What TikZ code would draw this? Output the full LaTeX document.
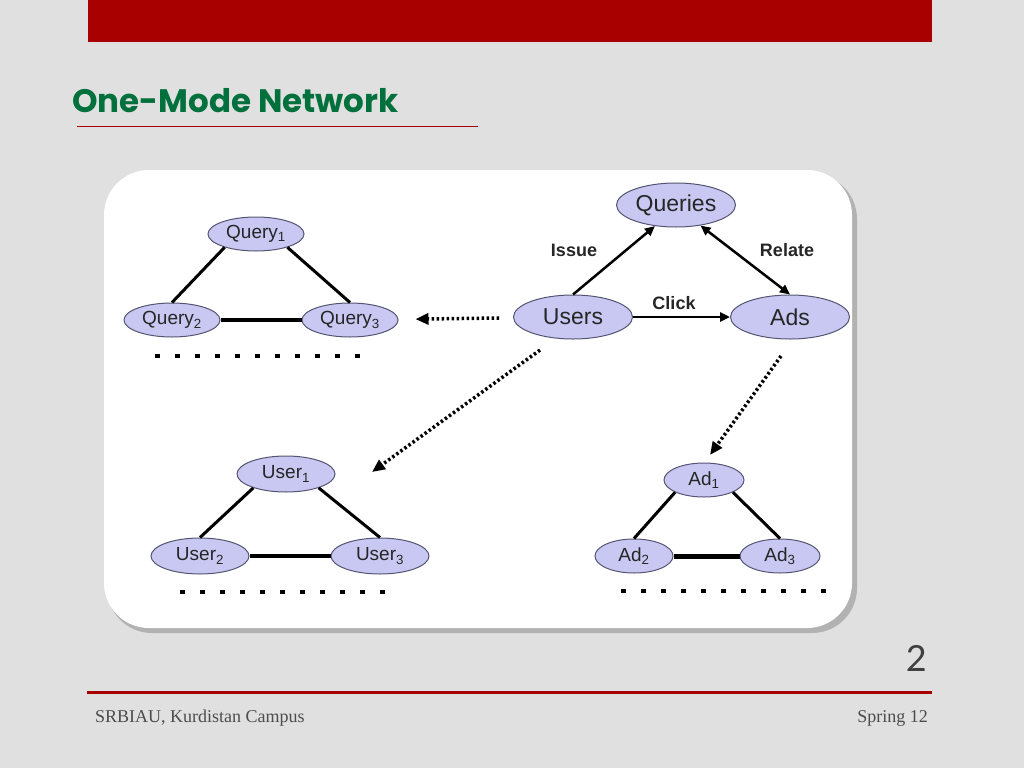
\documentclass[tikz,border=0pt]{standalone}
\usepackage{fontspec}
\setmainfont{Liberation Sans}
\newfontfamily\titlefont{Poppins}
\newfontfamily\footfont{Liberation Serif}
\newfontfamily\numfont{Lato}
\usetikzlibrary{shapes.geometric,arrows.meta}
\definecolor{barred}{RGB}{168,0,0}
\definecolor{titlegreen}{RGB}{0,112,60}
\definecolor{nodefill}{RGB}{200,200,242}
\definecolor{nodeline}{RGB}{85,85,115}
\definecolor{slide}{RGB}{224,224,224}
\tikzset{
  ent/.style={ellipse, draw=nodeline, fill=nodefill, line width=1pt, inner sep=0pt,
    minimum width=96pt, minimum height=34pt, text=black!85, font=\fontsize{19}{19}\selectfont},
  bigent/.style={ent, minimum width=119pt, minimum height=44pt, font=\fontsize{23}{23}\selectfont},
  tie/.style={line width=3pt},
  rel/.style={line width=2.5pt, -{Triangle[length=10pt,width=9pt]}},
  proj/.style={line width=3.5pt, dash pattern=on 2.5pt off 2.5pt,
    -{Triangle[length=13pt,width=11pt]}},
  lbl/.style={font=\bfseries\fontsize{18}{18}\selectfont, text=black!85},
  etc/.style={line width=4.5pt, dash pattern=on 4.5pt off 15.5pt}
}
\begin{document}
\begin{tikzpicture}[x=1pt,y=-1pt]
  \useasboundingbox (0,0) rectangle (1024,768);
  \fill[slide] (0,0) rectangle (1024,768);
  \fill[barred] (88,0) rectangle (932,42);
  \node[anchor=base west, inner sep=0pt, text=titlegreen, font=\titlefont\bfseries\fontsize{32.5}{32.5}\selectfont]
    (title) at (72,112) {One-Mode Network};
  \draw[barred, line width=1pt] (77,126) -- (478,126);
  \fill[gray!60, rounded corners=45pt] (107,174) rectangle (857,633);
  \fill[white, rounded corners=45pt] (104,170) rectangle (852,628);
  \draw
    (256,234) node[ent] (q1) {Query\textsubscript{1}}
    (172,320) node[ent] (q2) {Query\textsubscript{2}}
    (350,320) node[ent] (q3) {Query\textsubscript{3}}
    (676,205) node[bigent] (qs) {Queries}
    (573,317) node[bigent] (us) {Users}
    (790,317) node[bigent] (ad) {Ads}
    (286,474) node[ent, minimum width=98pt, minimum height=36pt] (u1) {User\textsubscript{1}}
    (200,556) node[ent, minimum width=98pt, minimum height=36pt] (u2) {User\textsubscript{2}}
    (380,556) node[ent, minimum width=98pt, minimum height=36pt] (u3) {User\textsubscript{3}}
    (704,480) node[ent, minimum width=80pt] (a1) {Ad\textsubscript{1}}
    (634,556) node[ent, minimum width=78pt] (a2) {Ad\textsubscript{2}}
    (780,556) node[ent, minimum width=80pt] (a3) {Ad\textsubscript{3}};
  \coordinate (p1) at (540,350);
  \coordinate (p2) at (372,472);
  \coordinate (p3) at (781,356);
  \coordinate (p4) at (710,455);
  \begin{scope}[tie]
    \draw (q1.203) to (q2.north);
    \draw (q1.-23) to (q3.north);
    \draw[line width=4pt] (q2) to (q3);
    \draw (u1.203) to (u2.north);
    \draw (u1.-23) to (u3.north);
    \draw[line width=4pt] (u2) to (u3);
    \draw (a1.203) to (a2.north);
    \draw (a1.-23) to (a3.north);
    \draw[line width=5pt] (a2) to (a3);
  \end{scope}
  \draw[rel] (us.north) to (qs.225);
  \draw[rel, {Triangle[length=10pt,width=9pt]}-{Triangle[length=10pt,width=9pt]}] (qs.-40) to (ad.north);
  \draw[rel] (us) to (ad);
  \node[lbl] (issue) at (574,250) {Issue};
  \node[lbl] (relate) at (787,250) {Relate};
  \node[lbl] (click) at (674,303) {Click};
  \draw[proj, shorten <=14pt, shorten >=17pt] (us) to (q3);
  \draw[proj] (p1) to (p2);
  \draw[proj] (p3) to (p4);
  \draw[etc] (155,356) -- (365,356);
  \draw[etc] (180,592) -- (392,592);
  \draw[etc] (621,591) -- (830,591);
  \node[anchor=base east, inner sep=0pt, text=black!75, font=\numfont\fontsize{36}{36}\selectfont]
    (page) at (927,671) {2};
  \draw[barred, line width=3pt] (87,692) -- (932,692);
  \node[anchor=base west, inner sep=0pt, text=black!70, font=\footfont\fontsize{18}{18}\selectfont]
    (foot) at (95,722) {SRBIAU, Kurdistan Campus};
  \node[anchor=base east, inner sep=0pt, text=black!70, font=\footfont\fontsize{18}{18}\selectfont]
    (term) at (928,722) {Spring 12};
\end{tikzpicture}
\end{document}
